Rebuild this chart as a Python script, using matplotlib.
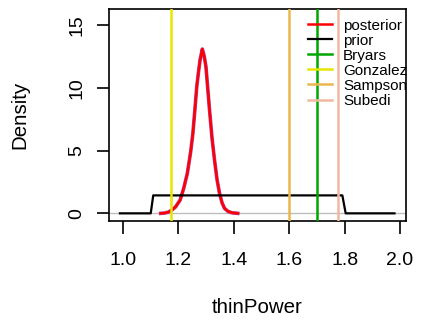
import matplotlib.pyplot as plt

plt.rcParams['font.family'] = ['Liberation Sans', 'DejaVu Sans']

# posterior density
post_x = [1.137, 1.15, 1.165, 1.177, 1.19, 1.207, 1.22, 1.233, 1.245, 1.253, 1.26, 1.267,
          1.274, 1.279, 1.287, 1.294, 1.300, 1.306, 1.313, 1.322, 1.331, 1.340, 1.349,
          1.358, 1.367, 1.38, 1.395, 1.415]
post_y = [0.0, 0.02, 0.1, 0.26, 0.5, 1.06, 2.0, 3.19, 4.9, 6.38, 8.2, 10.1,
          11.4, 12.23, 13.09, 12.5, 11.7, 10.1, 8.24, 6.0, 4.25, 2.7, 1.6,
          0.85, 0.4, 0.15, 0.04, 0.0]

# prior density
prior_x = [0.99, 1.101, 1.11, 1.792, 1.804, 1.98]
prior_y = [0.0, 0.0, 1.43, 1.43, 0.0, 0.0]

# published estimates
ref_names = ['Bryars', 'Gonzalez', 'Sampson', 'Subedi']
ref_vals = [1.70, 1.174, 1.60, 1.778]
ref_cols = ['#00A600', '#E6E600', '#EAB64E', '#EEB99F']

fig = plt.figure(figsize=(4.21, 3.25), dpi=100)
ax = fig.add_axes([109 / 421, 1 - 221 / 325, 297 / 421, 212 / 325])

ax.axhline(0, color='#BEBEBE', lw=1, zorder=1)
ax.plot(post_x, post_y, color='#B040A0', lw=2.6, zorder=2)
ax.plot(post_x, post_y, color='#FF0000', lw=1.8, zorder=3, label='posterior')
ax.plot(prior_x, prior_y, color='black', lw=1.6, zorder=3, label='prior')
for name, v, c in zip(ref_names, ref_vals, ref_cols):
    ax.axvline(v, color=c, lw=1.8, zorder=4, label=name)

ax.set_xlim(0.9505, 2.0215)
ax.set_ylim(-0.61, 16.28)
ax.set_xticks([1.0, 1.2, 1.4, 1.6, 1.8, 2.0])
ax.set_xticklabels(['1.0', '1.2', '1.4', '1.6', '1.8', '2.0'])
ax.set_yticks([0, 5, 10, 15])
ax.tick_params(axis='both', labelsize=14, length=9, width=1.2)
ax.tick_params(axis='x', pad=13)
ax.tick_params(axis='y', pad=8)
for lab in ax.get_yticklabels():
    lab.set_rotation(90)
    lab.set_va('center')
for s in ax.spines.values():
    s.set_linewidth(1.2)

ax.set_xlabel('thinPower', fontsize=14.8, labelpad=21)
ax.set_ylabel('Density', fontsize=14.8, labelpad=28)

leg = ax.legend(loc='upper left', frameon=False, fontsize=11, handlelength=1.6,
                handletextpad=0.7, labelspacing=0.07, borderaxespad=0, borderpad=0,
                bbox_to_anchor=(0.670, 0.955))
leg.set_zorder(10)

fig.savefig('out.png', dpi=100)
